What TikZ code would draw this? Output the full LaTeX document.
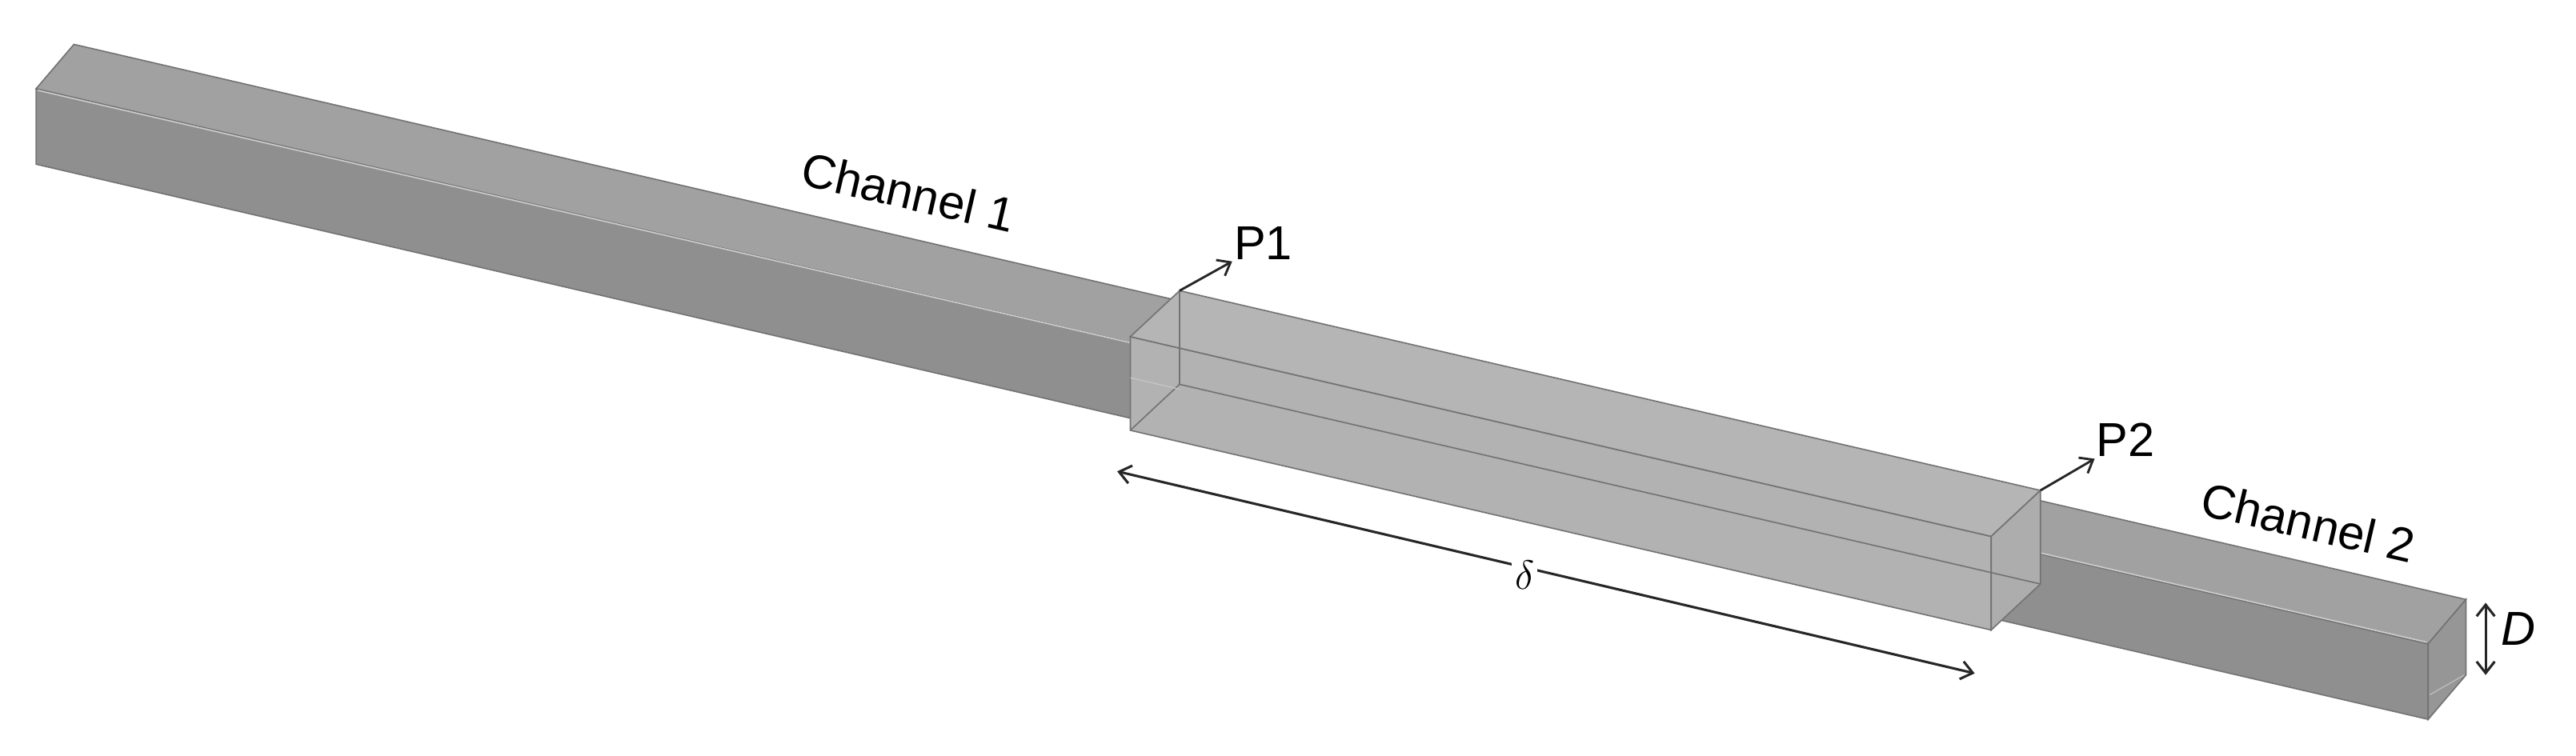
\documentclass[tikz,border=0pt]{standalone}
\usepackage{fontspec}
\setmainfont{Liberation Sans}
\usetikzlibrary{arrows.meta}
\begin{document}
\begin{tikzpicture}[x=1pt,y=-1pt,
  edge/.style={draw=black!55,line width=0.8pt},
  lbl/.style={font=\fontsize{29}{32}\selectfont,inner sep=1pt},
  arr/.style={draw=black!85,line width=1.4pt,-{Straight Barb[length=7pt,width=11pt]}},
  darr/.style={draw=black!85,line width=1.5pt,{Straight Barb[length=7pt,width=11pt]}-{Straight Barb[length=7pt,width=11pt]}}]
\useasboundingbox (0,0) rectangle (1568,460.3);
% long channel
\fill[fill=black!44,edge] (22,54) -- (1478,392) -- (1478,438) -- (22,100) -- cycle;
\fill[fill=black!37,edge] (22,54) -- (45,27) -- (1501,365) -- (1478,392) -- cycle;
\fill[fill=black!41,edge] (1478,392) -- (1501,365) -- (1501,411) -- (1478,438) -- cycle;
\draw[white!80!black,line width=0.8pt] (23,55) -- (1477,391);
\draw[white!75!black,line width=0.6pt] (1479,423) -- (1500,411);
% sleeve
\fill[fill=black!30,edge] (688,205) -- (1212,326.6) -- (1212,383.6) -- (688,262) -- cycle;
\fill[fill=black!29,edge] (688,205) -- (718,177) -- (1242,298.6) -- (1212,326.6) -- cycle;
\fill[fill=black!32,edge] (1212,326.6) -- (1242,298.6) -- (1242,355.6) -- (1212,383.6) -- cycle;
\draw[edge] (718,177) -- (718,234) -- (1242,355.6);
\draw[edge] (688,262) -- (718,234);
\draw[black!22,line width=0.6pt] (688,230) -- (718,237);
% coordinates
\coordinate (p1s) at (718,177);
\coordinate (p2s) at (1242,298.6);
\coordinate (da) at (680,287);
\coordinate (db) at (1202,410);
\coordinate (Da) at (1513,367);
\coordinate (Db) at (1513,411);
\node[lbl,anchor=west] (P1) at (750,148) {P1};
\node[lbl,anchor=west] (P2) at (1275,268) {P2};
\draw[arr] (p1s) -- (P1.south west);
\draw[arr] (p2s) -- (P2.south west);
\node[lbl,rotate=-13] (c1) at (553,117) {Channel 1};
\node[lbl,rotate=-13] (c2) at (1405,318) {Channel 2};
\draw[darr] (da) -- (db);
\node[font=\fontsize{36}{38}\selectfont,fill=white,inner sep=2pt] (del) at (928,350) {$\delta$};
\draw[darr] (Da) -- (Db);
\node[lbl,anchor=west,font=\fontsize{29}{32}\selectfont\itshape] (D) at (1521,383) {D};
\end{tikzpicture}
\end{document}
